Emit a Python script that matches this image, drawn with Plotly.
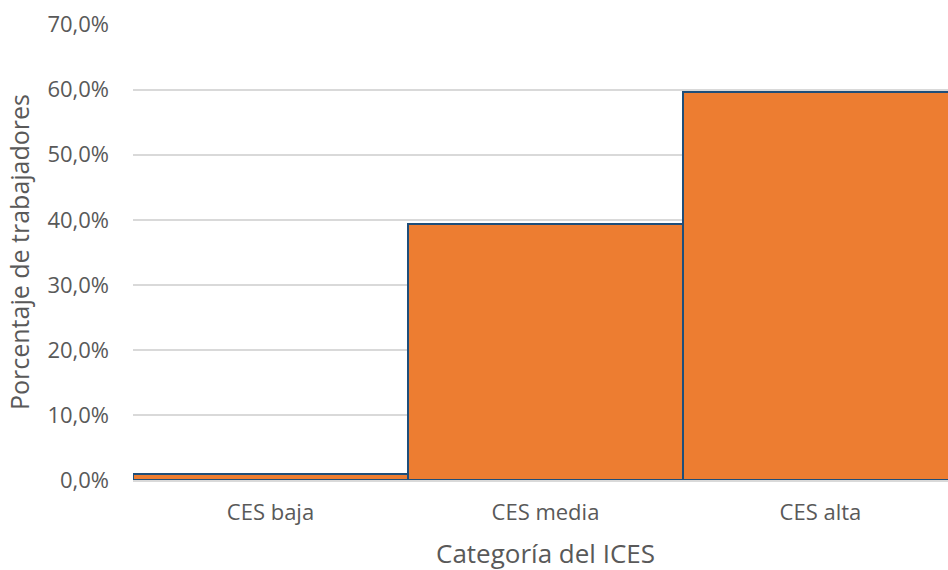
import plotly.graph_objects as go

categories = ["CES baja", "CES media", "CES alta"]
values = [1.0, 39.4, 59.6]
y_ticks = [0, 10, 20, 30, 40, 50, 60, 70]
y_ticklabels = ["0,0%", "10,0%", "20,0%", "30,0%", "40,0%", "50,0%", "60,0%", "70,0%"]
x_title = "Categoría del ICES"
y_title = "Porcentaje de trabajadores"

font_family = "Open Sans, Noto Sans, sans-serif"
grey = "#595959"

fig = go.Figure(go.Bar(
    x=categories, y=values,
    marker=dict(color="#ED7D31", line=dict(color="#1F4E79", width=2)),
    hoverinfo="skip",
))

fig.update_layout(
    width=948, height=570,
    margin=dict(l=133, r=0, t=24, b=90),
    plot_bgcolor="white", paper_bgcolor="white",
    bargap=0,
    showlegend=False,
    font=dict(family=font_family, color=grey, size=22),
)
fig.update_xaxes(
    range=[-0.5, 2.464],
    showgrid=False,
    showline=True, linecolor="#D9D9D9", linewidth=2,
    ticks="", tickfont=dict(size=22, color=grey),
    ticklabelstandoff=12,
)
fig.update_yaxes(
    range=[0, 70.1],
    tickvals=y_ticks, ticktext=y_ticklabels,
    showgrid=True, gridcolor="#D9D9D9", gridwidth=2,
    zeroline=False, showline=False,
    ticks="", tickfont=dict(size=22, color=grey),
    ticklabelstandoff=23,
    title=dict(text=y_title, font=dict(size=25, color=grey), standoff=10),
)
# x-axis title centred over the middle category (as in the original, where the
# plot area extends slightly past the right edge of the image)
fig.add_annotation(
    text=x_title, x=categories[1], xref="x", y=0, yref="paper",
    yanchor="middle", yshift=-73, showarrow=False,
    font=dict(size=26, color=grey),
)

fig.write_html(
    "out.html",
    config={"displayModeBar": False},
    post_script="document.body.style.margin='0';document.body.style.overflow='hidden';",
)
